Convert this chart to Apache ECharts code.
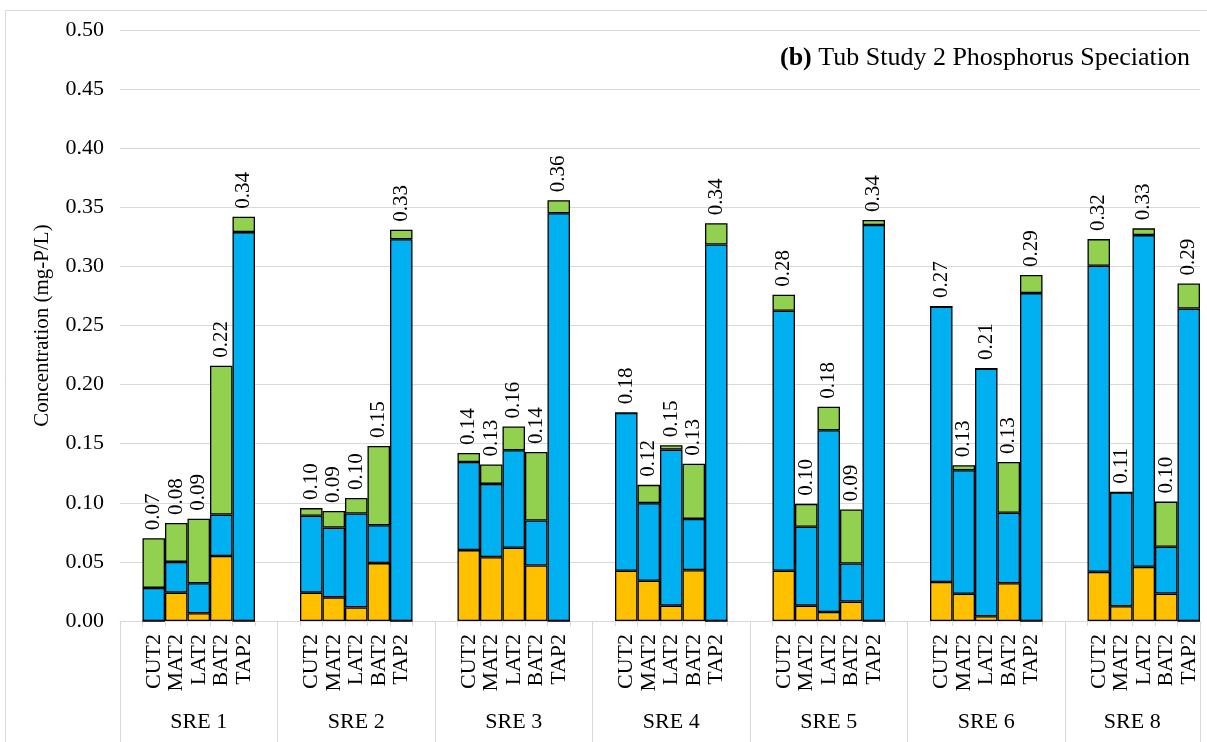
<!DOCTYPE html>
<html>
<head>
<meta charset="utf-8">
<title>Tub Study 2 Phosphorus Speciation</title>
<script src="https://cdn.jsdelivr.net/npm/echarts@6/dist/echarts.min.js"></script>
<style>
  html, body { margin: 0; padding: 0; background: #fff; }
  #chart { width: 1207px; height: 742px; }
</style>
</head>
<body>
<div id="chart"></div>
<script>
// bars inside each group, and the groups along the axis
const sites = ['CUT2', 'MAT2', 'LAT2', 'BAT2', 'TAP2']
const groups = ['SRE 1', 'SRE 2', 'SRE 3', 'SRE 4', 'SRE 5', 'SRE 6', 'SRE 8']

// stacked parts (mg-P/L), five values per group, bottom to top
const yellowPart = [
  0, 0.024, 0.0065, 0.055, 0,
  0.024, 0.020, 0.0115, 0.049, 0,
  0.060, 0.054, 0.062, 0.047, 0,
  0.0425, 0.034, 0.013, 0.043, 0,
  0.0425, 0.013, 0.0076, 0.0164, 0,
  0.033, 0.023, 0.004, 0.032, 0,
  0.0416, 0.0125, 0.0458, 0.0232, 0
]
const bluePart = [
  0.028, 0.026, 0.0255, 0.035, 0.329,
  0.065, 0.059, 0.0795, 0.032, 0.323,
  0.0745, 0.062, 0.0825, 0.038, 0.345,
  0.1335, 0.0657, 0.132, 0.0434, 0.3185,
  0.220, 0.0668, 0.1538, 0.0323, 0.335,
  0.233, 0.1045, 0.2095, 0.0596, 0.2774,
  0.2589, 0.0962, 0.2807, 0.0396, 0.2643
]
const greenPart = [
  0.042, 0.033, 0.0545, 0.126, 0.013,
  0.0065, 0.014, 0.013, 0.067, 0.008,
  0.0077, 0.0165, 0.020, 0.058, 0.011,
  0, 0.0155, 0.0037, 0.0467, 0.018,
  0.0135, 0.0193, 0.0198, 0.0456, 0.0042,
  0, 0.0043, 0, 0.043, 0.0153,
  0.0226, 0, 0.0057, 0.0382, 0.0212
]

const yMin = 0
const yMax = 0.5
const yStep = 0.05

const FONT = '"Liberation Serif", "Times New Roman", serif'
const GRID_COLOR = '#d9d9d9'

// one blank slot before and after every group (the last group has none after)
const categories = []
const groupLabels = []
const groupStarts = []
const slotIndex = []
groups.forEach((g, gi) => {
  groupStarts.push(categories.length)
  categories.push('')
  groupLabels.push('')
  sites.forEach((s, si) => {
    slotIndex.push(categories.length)
    categories.push(s)
    groupLabels.push('')
  })
  if (gi < groups.length - 1) {
    categories.push('')
    groupLabels.push('')
  }
})
// group name under the middle of its slots
groups.forEach((g, gi) => {
  const start = groupStarts[gi]
  const last = gi === groups.length - 1
  groupLabels[start + (last ? 2 : 3)] = last ? '{half|' + g + '}' : g
})

function pad(values) {
  const out = categories.map(() => '-')
  values.forEach((v, i) => { out[slotIndex[i]] = v })
  return out
}

const totals = pad(yellowPart.map((v, i) => v + bluePart[i] + greenPart[i]))

function segment(name, values, color) {
  return {
    name: name,
    type: 'bar',
    stack: 'total',
    barWidth: '100%',
    data: pad(values),
    itemStyle: { color: color, borderColor: '#000', borderWidth: 1.3 },
    emphasis: { disabled: true }
  }
}

const seriesList = [
  segment('yellow', yellowPart, '#FFC000'),
  segment('blue', bluePart, '#00B0F0'),
  segment('green', greenPart, '#92D050')
]
seriesList[2].label = {
  show: true,
  position: 'top',
  distance: 8,
  rotate: 90,
  align: 'left',
  verticalAlign: 'middle',
  fontFamily: FONT,
  fontSize: 21,
  color: '#000',
  formatter: p => totals[p.dataIndex].toFixed(2)
}

const chart = echarts.init(document.getElementById('chart'))
chart.setOption({
  animation: false,
  backgroundColor: '#fff',
  title: {
    text: '{b|(b)} Tub Study 2 Phosphorus Speciation',
    right: 17,
    top: 45,
    padding: 0,
    textStyle: {
      fontFamily: FONT,
      fontSize: 26,
      fontWeight: 'normal',
      color: '#000',
      rich: {
        b: { fontFamily: FONT, fontSize: 26, fontWeight: 'bold', color: '#000' }
      }
    }
  },
  graphic: [{
    type: 'rect',
    silent: true,
    z: -10,
    shape: { x: 5.5, y: 10.5, width: 1300, height: 900 },
    style: { fill: 'none', stroke: GRID_COLOR, lineWidth: 1 }
  }],
  grid: { left: 120, right: 7, top: 30, bottom: 121, outerBoundsMode: 'none' },
  xAxis: [{
    type: 'category',
    data: categories,
    position: 'bottom',
    axisLine: { lineStyle: { color: GRID_COLOR, width: 1 } },
    axisTick: { show: true, length: 5, lineStyle: { color: GRID_COLOR } },
    axisLabel: { interval: 0, rotate: 90, margin: 13, fontFamily: FONT, fontSize: 22, color: '#000' },
    splitLine: { show: false }
  }, {
    type: 'category',
    data: groupLabels,
    position: 'bottom',
    axisLine: { show: false },
    axisTick: {
      show: true,
      length: 125,
      interval: i => groupStarts.indexOf(i) >= 0,
      lineStyle: { color: GRID_COLOR }
    },
    axisLabel: {
      interval: 0,
      margin: 90,
      fontFamily: FONT,
      fontSize: 22,
      color: '#000',
      rich: {
        half: { fontFamily: FONT, fontSize: 22, color: '#000', padding: [0, 0, 0, 22] }
      }
    },
    splitLine: { show: false }
  }],
  yAxis: {
    type: 'value',
    min: yMin,
    max: yMax,
    interval: yStep,
    name: 'Concentration (mg-P/L)',
    nameLocation: 'middle',
    nameGap: 67,
    nameTextStyle: { fontFamily: FONT, fontSize: 21, color: '#000' },
    axisLine: { show: false },
    axisTick: { show: false },
    axisLabel: { margin: 16, fontFamily: FONT, fontSize: 22, color: '#000', formatter: v => v.toFixed(2) },
    splitLine: { lineStyle: { color: GRID_COLOR, width: 1 } }
  },
  series: seriesList
})
</script>
</body>
</html>
